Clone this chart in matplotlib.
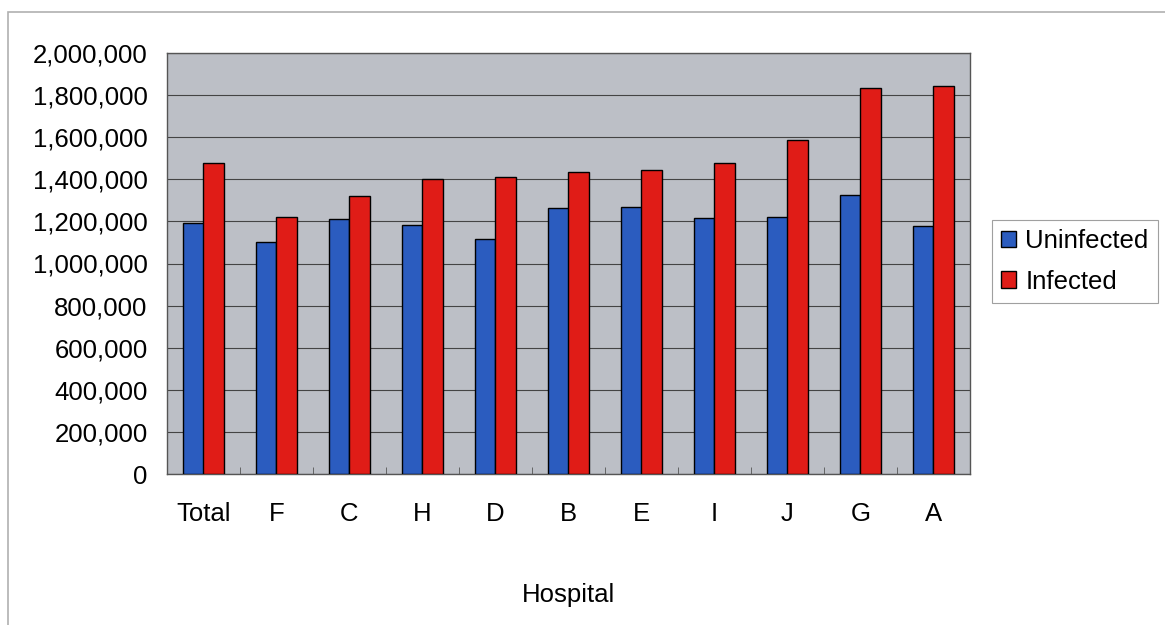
import numpy as np
import matplotlib.pyplot as plt
from matplotlib.patches import Rectangle
from matplotlib.ticker import FuncFormatter, FixedLocator

plt.rcParams["font.family"] = ["Liberation Sans", "DejaVu Sans"]

# Hospital costs per patient group
hospitals = ["Total", "F", "C", "H", "D", "B", "E", "I", "J", "G", "A"]
uninfected = [1191000, 1103000, 1212000, 1183000, 1115000, 1264000,
              1267000, 1217000, 1220000, 1327000, 1180000]
infected = [1477000, 1223000, 1321000, 1403000, 1412000, 1433000,
            1444000, 1476000, 1586000, 1834000, 1844000]

blue = "#2b5cbf"
red = "#e01c17"
plot_bg = "#bcbfc6"
fs = 18.5

fig = plt.figure(figsize=(11.65, 6.25), dpi=100)
fig.patch.set_facecolor("white")

# chart frame
frame = Rectangle((8 / 1165, -0.05), 1.2, 1 - 12 / 625 + 0.05,
                  transform=fig.transFigure, fill=False,
                  edgecolor="#b0b0b0", linewidth=1.2)
fig.patches.append(frame)

ax = fig.add_axes([167 / 1165, 1 - 474 / 625, (970 - 167) / 1165, (474 - 53) / 625])
ax.set_facecolor(plot_bg)

x = np.arange(len(hospitals))
w = 0.285
ax.bar(x - w / 2, uninfected, w, color=blue, edgecolor="black", linewidth=1.0,
       label="Uninfected", zorder=3)
ax.bar(x + w / 2, infected, w, color=red, edgecolor="black", linewidth=1.0,
       label="Infected", zorder=3)

ax.set_xlim(-0.5, len(hospitals) - 0.5)
ax.set_ylim(0, 2000000)
ax.set_yticks(np.arange(0, 2000001, 200000))
ax.yaxis.set_major_formatter(FuncFormatter(lambda v, p: f"{int(v):,}"))
ax.grid(axis="y", color="#444444", linewidth=0.8, zorder=1)

ax.set_xticks(x)
ax.set_xticklabels(hospitals)
ax.xaxis.set_minor_locator(FixedLocator(np.arange(-0.5, len(hospitals), 1)))
ax.tick_params(axis="x", which="major", length=0, pad=20, labelsize=fs)
ax.tick_params(axis="x", which="minor", direction="in", length=5, color="#555555")
ax.tick_params(axis="y", length=0, pad=14, labelsize=fs)

for s in ax.spines.values():
    s.set_color("#555555")
    s.set_linewidth(1.0)

ax.set_xlabel("Hospital", fontsize=fs, labelpad=41)

leg = fig.legend(loc="upper left", bbox_to_anchor=(992 / 1165, 1 - 220 / 625),
                 fontsize=fs, frameon=True, fancybox=False, edgecolor="#888888",
                 handlelength=0.6, handleheight=0.6, handletextpad=0.35,
                 borderpad=0.35, borderaxespad=0, labelspacing=0.65)
leg.get_frame().set_linewidth(0.8)

fig.savefig("out.png", dpi=100)
